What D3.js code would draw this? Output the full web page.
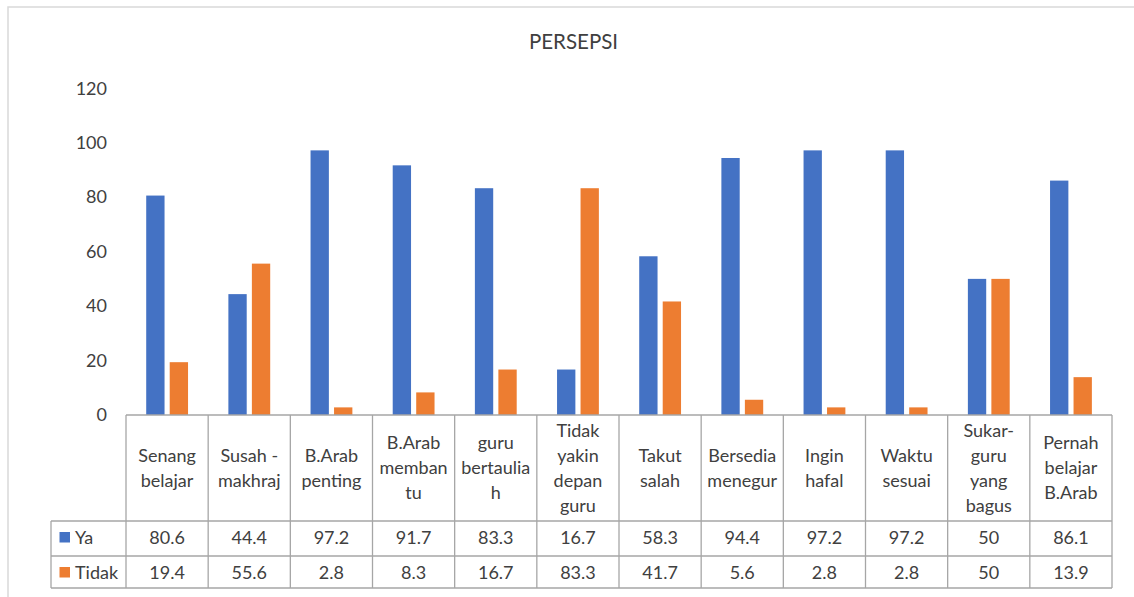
<!DOCTYPE html>
<html>
<head>
<meta charset="utf-8">
<script src="https://cdn.jsdelivr.net/npm/d3@7"></script>
<style>
  html, body { margin: 0; padding: 0; background: #fff; }
  svg { display: block; font-family: Lato, "Open Sans", sans-serif; }
</style>
</head>
<body>
<svg id="chart" width="1134" height="597"></svg>
<script>
// ---- data ----
const chartTitle = "PERSEPSI";
const categories = [
  ["Senang", "belajar"],
  ["Susah -", "makhraj"],
  ["B.Arab", "penting"],
  ["B.Arab", "memban", "tu"],
  ["guru", "bertaulia", "h"],
  ["Tidak", "yakin", "depan", "guru"],
  ["Takut", "salah"],
  ["Bersedia", "menegur"],
  ["Ingin", "hafal"],
  ["Waktu", "sesuai"],
  ["Sukar-", "guru", "yang", "bagus"],
  ["Pernah", "belajar", "B.Arab"]
];
const seriesNames = ["Ya", "Tidak"];
const ya    = [80.6, 44.4, 97.2, 91.7, 83.3, 16.7, 58.3, 94.4, 97.2, 97.2, 50, 86.1];
const tidak = [19.4, 55.6, 2.8, 8.3, 16.7, 83.3, 41.7, 5.6, 2.8, 2.8, 50, 13.9];
const yTicks = [0, 20, 40, 60, 80, 100, 120];

// ---- layout ----
const colors = ["#4472C4", "#ED7D31"];
const textColor = "#404040";
const lineColor = "#a6a6a6";
const plotLeft = 126, plotRight = 1112;
const y0 = 415, yTop = 88.3;
const headerBottom = 521, yaBottom = 556, tidakBottom = 588;
const legendLeft = 51;

const svg = d3.select("#chart");

// outer border
svg.append("rect")
  .attr("x", 8).attr("y", 7)
  .attr("width", 1200).attr("height", 700)
  .attr("fill", "none").attr("stroke", "#d9d9d9").attr("stroke-width", 1.5);

// title
svg.append("text")
  .attr("x", 573.5).attr("y", 49)
  .attr("text-anchor", "middle")
  .attr("font-size", 20.5)
  .attr("fill", textColor)
  .text(chartTitle);

const catIdx = categories.map((d, i) => i);
const x0 = d3.scaleBand().domain(catIdx).range([plotLeft, plotRight]).padding(0);
const bw = x0.bandwidth();
const x1 = d3.scaleBand().domain(seriesNames)
  .range([bw * 0.246, bw * 0.755]).paddingInner(0.22).paddingOuter(0);
const y = d3.scaleLinear().domain([0, 120]).range([y0, yTop]);

// y axis
const yAxis = svg.append("g")
  .attr("transform", `translate(${plotLeft},0)`)
  .call(d3.axisLeft(y).tickValues(yTicks).tickSize(0).tickPadding(19).tickFormat(d3.format("d")));
yAxis.select(".domain").remove();
yAxis.selectAll("text")
  .attr("font-size", 18)
  .attr("font-family", "Lato, 'Open Sans', sans-serif")
  .attr("fill", textColor);

// bars
const seriesData = [ya, tidak];
seriesNames.forEach((s, si) => {
  svg.append("g").selectAll("rect")
    .data(seriesData[si])
    .join("rect")
    .attr("x", (d, i) => x0(i) + x1(s))
    .attr("width", x1.bandwidth())
    .attr("y", d => y(d))
    .attr("height", d => y(0) - y(d))
    .attr("fill", colors[si]);
});

// data table
const tbl = svg.append("g").attr("stroke", lineColor).attr("stroke-width", 1.3).attr("fill", "none");
// horizontal lines
tbl.append("line").attr("x1", plotLeft).attr("x2", plotRight).attr("y1", y0).attr("y2", y0);
[headerBottom, yaBottom, tidakBottom].forEach(yy => {
  tbl.append("line").attr("x1", legendLeft).attr("x2", plotRight).attr("y1", yy).attr("y2", yy);
});
// vertical lines
catIdx.concat([categories.length]).forEach(i => {
  const xx = i < categories.length ? x0(i) : plotRight;
  tbl.append("line").attr("x1", xx).attr("x2", xx).attr("y1", y0).attr("y2", tidakBottom);
});
tbl.append("line").attr("x1", legendLeft).attr("x2", legendLeft).attr("y1", headerBottom).attr("y2", tidakBottom);

// category labels
const labels = svg.append("g").attr("font-size", 18).attr("fill", textColor).attr("text-anchor", "middle");
categories.forEach((lines, i) => {
  const cx = x0(i) + bw / 2;
  const first = 474 - (lines.length - 1) * 12.5;
  const t = labels.append("text");
  lines.forEach((ln, k) => {
    t.append("tspan").attr("x", cx).attr("y", first + k * 25).text(ln);
  });
});

// values in table
const rowBase = [543.5, 578.5];
seriesNames.forEach((s, si) => {
  const g = svg.append("g").attr("font-size", 18).attr("fill", textColor);
  g.selectAll("text")
    .data(seriesData[si])
    .join("text")
    .attr("x", (d, i) => x0(i) + bw / 2)
    .attr("y", rowBase[si])
    .attr("text-anchor", "middle")
    .text(d => String(d));
  // legend key
  g.append("rect")
    .attr("x", 59.5).attr("y", rowBase[si] - 11.5)
    .attr("width", 10.5).attr("height", 10.5)
    .attr("fill", colors[si]);
  g.append("text")
    .attr("x", 75).attr("y", rowBase[si])
    .text(s);
});
</script>
</body>
</html>
